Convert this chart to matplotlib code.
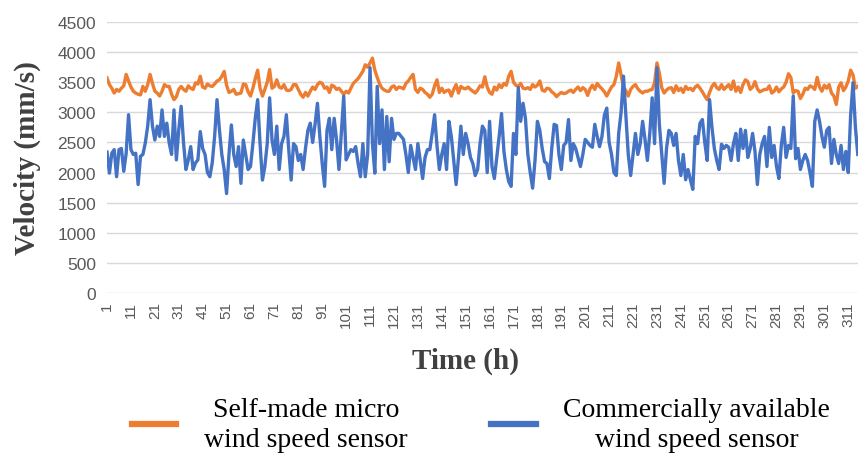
import numpy as np
import matplotlib
matplotlib.use("Agg")
import matplotlib.pyplot as plt

# hourly readings
self_made = [
    3570, 3460, 3400, 3320, 3380, 3350, 3400, 3440, 3630, 3520,
    3420, 3350, 3320, 3300, 3290, 3430, 3350, 3460, 3630, 3480,
    3350, 3320, 3270, 3350, 3460, 3430, 3430, 3300, 3210, 3260,
    3380, 3430, 3380, 3350, 3440, 3400, 3380, 3490, 3470,
    3600, 3420, 3400, 3470, 3440, 3430, 3470, 3520, 3540, 3600,
    3680, 3450, 3330, 3350, 3380, 3300, 3310, 3320, 3470, 3460,
    3340, 3270, 3400, 3560, 3700, 3400, 3270, 3380, 3500, 3710,
    3400, 3430, 3540, 3420, 3400, 3460, 3370, 3360, 3380, 3460,
    3460, 3380, 3300, 3250, 3330, 3270, 3350, 3420, 3380, 3460,
    3500, 3480, 3400, 3420, 3330, 3450, 3430, 3380, 3400, 3350,
    3300, 3350, 3320, 3400, 3480, 3520, 3560, 3620, 3680, 3790,
    3750, 3820, 3900, 3700, 3580, 3470, 3400, 3370, 3350,
    3350, 3420, 3440, 3380, 3420, 3410, 3390, 3480, 3520, 3580,
    3630, 3380, 3330, 3400, 3380, 3330, 3300, 3250, 3300, 3440,
    3540, 3330, 3400, 3330, 3360, 3370, 3270, 3380, 3460, 3320,
    3430, 3400, 3390, 3420, 3380, 3350, 3320, 3370, 3440, 3420,
    3590, 3420, 3330, 3300, 3420, 3370, 3460, 3410, 3480, 3450,
    3600, 3680, 3500, 3450, 3430, 3480, 3400, 3390, 3410, 3380,
    3460, 3420, 3450, 3520, 3370, 3350, 3400, 3390, 3340, 3310,
    3260, 3300, 3330, 3310, 3320, 3350, 3370, 3330, 3380,
    3420, 3360, 3410, 3380, 3280, 3390, 3450, 3380, 3480, 3430,
    3390, 3340, 3270, 3350, 3420, 3460, 3600, 3820, 3620, 3420,
    3360, 3270, 3380, 3430, 3460, 3390, 3350, 3320, 3350, 3350,
    3370, 3380, 3490, 3820, 3650, 3410, 3320, 3370, 3400,
    3410, 3330, 3440, 3360, 3400, 3330, 3430, 3380, 3400, 3360,
    3420, 3450, 3400, 3340, 3270, 3210, 3330, 3430, 3480, 3410,
    3380, 3460, 3380, 3420, 3460, 3380, 3520, 3350, 3420, 3330,
    3460, 3540, 3510, 3380, 3420, 3510, 3390, 3340, 3360, 3380,
    3380, 3440, 3320, 3350, 3420, 3340, 3390, 3420, 3500, 3640,
    3580, 3320, 3360, 3350, 3230, 3300, 3400, 3380, 3440, 3420,
    3380, 3580, 3420, 3350, 3450, 3400, 3460, 3320, 3270, 3130,
    3420, 3490, 3360, 3420, 3520, 3700, 3620, 3400, 3430,
]

commercial = [
    2340, 1990, 2320, 2380, 1930, 2380, 2400, 2020, 2320, 2960,
    2380, 2300, 2320, 1800, 2270, 2300, 2490, 2770, 3210, 2770,
    2540, 2770, 2600, 3040, 2600, 2820, 2490, 2300, 3040, 2210,
    2710, 3100, 2490, 2050, 2210, 2430, 2050, 2160, 2210,
    2680, 2400, 2300, 2000, 1930, 2160, 2600, 3210, 2710, 2300,
    2050, 1650, 2300, 2790, 2300, 2100, 2430, 1820, 2540, 2300,
    2050, 2100, 2480, 2900, 3210, 2480, 1875, 2100, 2480, 3240,
    2540, 2300, 2770, 2050, 2480, 2600, 2960, 2380, 1875, 2480,
    2430, 2200, 2300, 2050, 2400, 2700, 2820, 2500, 2800, 3150,
    2600, 2150, 1770, 2700, 2900, 2380, 2900, 2540, 2050, 2650,
    3270, 2210, 2300, 2380, 2350, 2430, 2150, 1930, 2480, 1930,
    2300, 3740, 2480, 1990, 3430, 2480, 3040, 2050, 2930,
    2180, 2900, 2550, 2650, 2650, 2600, 2550, 2300, 2000, 2450,
    2250, 2050, 2480, 2200, 1900, 2250, 2380, 2380, 2650, 2960,
    2450, 2050, 2300, 2480, 2050, 2850, 2600, 2200, 1800, 2250,
    2770, 2300, 2650, 2480, 2250, 2150, 1950, 2050, 2480, 2770,
    2700, 2000, 2850, 2100, 1900, 2250, 2600, 2980, 2350, 2050,
    1850, 1770, 2650, 2300, 3410, 2850, 3150, 2900, 2300, 2000,
    1740, 2200, 2850, 2700, 2400, 2180, 2150, 1900, 2400, 2800,
    2780, 2300, 2050, 2450, 2500, 2880, 2200, 2480, 2400,
    2250, 2100, 2300, 2550, 2500, 2450, 2420, 2800, 2600, 2430,
    2600, 2950, 3070, 2500, 2300, 2000, 1950, 2650, 3000, 3600,
    2950, 2300, 1950, 2300, 2650, 2300, 2480, 2850, 2550, 2200,
    2650, 3240, 2480, 3740, 2800, 2300, 1820, 2400, 2700,
    2650, 2450, 2650, 2200, 1950, 2300, 1880, 2050, 1880, 1720,
    2600, 2480, 2820, 2880, 2500, 2200, 3210, 2750, 2400, 2200,
    2050, 2470, 2400, 2450, 2420, 2200, 2480, 2650, 2200, 2720,
    2400, 2700, 2250, 2400, 2650, 2350, 1800, 2300, 2480, 2600,
    2100, 2750, 2250, 2450, 2100, 1900, 2450, 2750, 2250, 2450,
    2400, 3270, 2230, 2400, 2050, 2200, 2300, 2200, 2000, 1770,
    2850, 3040, 2850, 2600, 2420, 2700, 2750, 2150, 2550, 2300,
    2150, 2450, 2050, 2350, 2000, 2950, 3490, 2750, 2300,
]

hours = np.arange(1, len(self_made) + 1)
tick_hours = list(range(1, 312, 10))
y_ticks = list(range(0, 4501, 500))

labels = ["Self-made micro\nwind speed sensor",
          "Commercially available\nwind speed sensor"]

fig = plt.figure(figsize=(8.59, 4.60), dpi=100)
ax = fig.add_axes([0.1246, 0.361, 0.874, 0.589])

ax.plot(hours, self_made, color="#ED7D31", lw=2.4, label=labels[0])
ax.plot(hours, commercial, color="#4472C4", lw=2.4, label=labels[1])

ax.set_xlim(1, len(self_made))
ax.set_ylim(0, 4500)
ax.set_yticks(y_ticks)
ax.set_xticks(tick_hours)
ax.set_xticklabels([str(t) for t in tick_hours], rotation=90)
ax.grid(axis="y", color="#D9D9D9", lw=1)
ax.set_axisbelow(True)
for s in ax.spines.values():
    s.set_visible(False)
ax.tick_params(axis="y", length=0, colors="#595959", labelsize=12.5, pad=8)
ax.tick_params(axis="x", length=0, colors="#595959", labelsize=11, pad=6)
for t in ax.get_xticklabels() + ax.get_yticklabels():
    t.set_fontfamily("Liberation Sans")

ax.set_ylabel("Velocity (mm/s)", family="Liberation Serif", weight="bold",
              fontsize=21, color="#404040")
ax.yaxis.set_label_coords(-0.088, 0.5)
ax.set_xlabel("Time (h)", family="Liberation Serif", weight="bold",
              fontsize=21, color="#404040")
ax.xaxis.set_label_coords(0.477, -0.2)

leg = fig.legend(loc="center", bbox_to_anchor=(0.56, 0.075), ncol=2,
                 frameon=False, prop={"family": "Liberation Serif", "size": 20},
                 handlelength=1.6, handletextpad=1.0, columnspacing=3.0)
for t in leg.get_texts():
    t.set_multialignment("center")
    t.set_linespacing(1.25)
for h in leg.get_lines():
    h.set_linewidth(4.5)

fig.savefig("out.png", dpi=100)
